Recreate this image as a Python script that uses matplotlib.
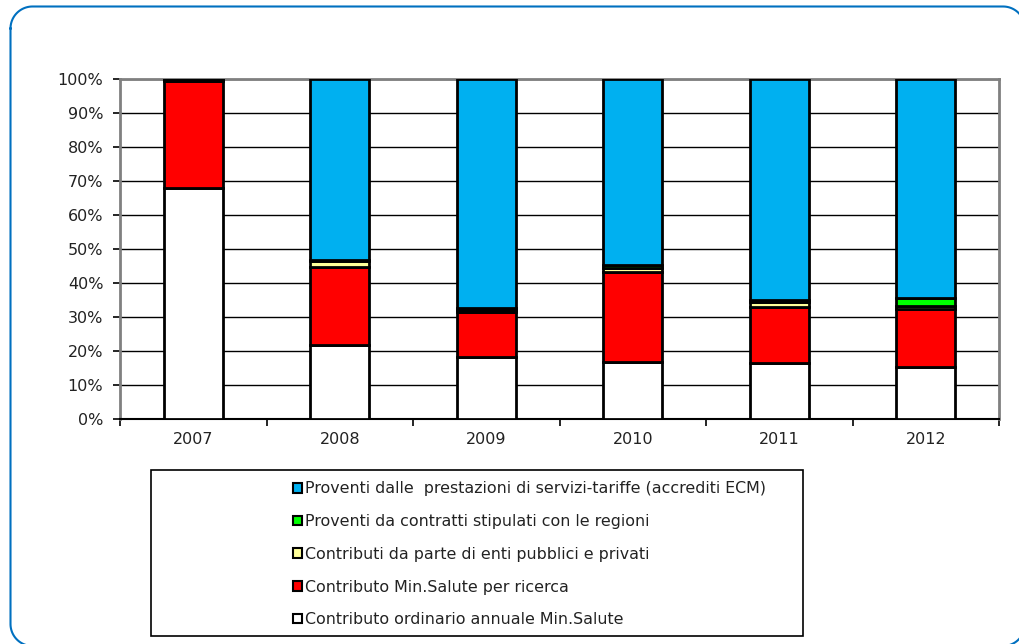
import matplotlib
matplotlib.use("Agg")
import matplotlib.pyplot as plt
import numpy as np
from matplotlib.patches import Rectangle
from matplotlib.ticker import PercentFormatter, FixedLocator

years = ["2007", "2008", "2009", "2010", "2011", "2012"]
ordinario = [68.0, 21.7, 18.3, 16.8, 16.6, 15.4]
ricerca = [31.5, 23.1, 13.1, 26.5, 16.2, 17.0]
enti = [0.3, 1.8, 0.6, 1.2, 1.7, 0.9]
regioni = [0.0, 0.2, 0.6, 0.8, 0.5, 2.2]
tariffe = [0.2, 53.2, 67.4, 54.7, 65.0, 64.5]

labels = [
    "Contributo ordinario annuale Min.Salute",
    "Contributo Min.Salute per ricerca",
    "Contributi da parte di enti pubblici e privati",
    "Proventi da contratti stipulati con le regioni",
    "Proventi dalle  prestazioni di servizi-tariffe (accrediti ECM)",
]
colors = ["#FFFFFF", "#FF0000", "#FFFF99", "#00FF00", "#00B0F0"]
series = [ordinario, ricerca, enti, regioni, tariffe]

plt.rcParams['font.family'] = ['DejaVu Sans']

W, H = 1020, 644
fig = plt.figure(figsize=(W / 100, H / 100), dpi=100)

# background axes in pixel coordinates for the rounded outer frame
bg = fig.add_axes([0, 0, 1, 1], zorder=0)
bg.set_xlim(0, W)
bg.set_ylim(H, 0)
bg.axis("off")
fx0, fy0, fx1, fy1, r = 10.5, 6.5, 1025, 646, 22
th = np.linspace(0, np.pi / 2, 30)
px, py = [], []
# top-left corner
px += list(fx0 + r - r * np.cos(th)); py += list(fy0 + r - r * np.sin(th))
# top-right corner
px += list(fx1 - r + r * np.sin(th)); py += list(fy0 + r - r * np.cos(th))
# bottom-right corner
px += list(fx1 - r + r * np.cos(th)); py += list(fy1 - r + r * np.sin(th))
# bottom-left corner
px += list(fx0 + r - r * np.sin(th)); py += list(fy1 - r + r * np.cos(th))
px.append(px[0]); py.append(py[0])
bg.plot(px, py, color="#0070C0", linewidth=1.5, clip_on=True)

ax = fig.add_axes([120 / W, 1 - 419 / H, (999 - 120) / W, (419 - 79) / H], zorder=1)
ax.set_facecolor("none")

x = np.arange(len(years))
bottom = np.zeros(len(years))
handles = []
for vals, col, lab in zip(series, colors, labels):
    vals = np.array(vals)
    b = ax.bar(x, vals, 0.4, bottom=bottom, color=col, edgecolor="black",
               linewidth=2.0, label=lab, zorder=3)
    handles.append(b)
    bottom += vals

ax.set_xlim(-0.5, len(years) - 0.5)
ax.set_ylim(0, 100)
ax.yaxis.set_major_locator(FixedLocator(np.arange(0, 101, 10)))
ax.yaxis.set_major_formatter(PercentFormatter(decimals=0))
ax.set_xticks(x)
ax.set_xticklabels(years)
ax.xaxis.set_minor_locator(FixedLocator(np.arange(-0.5, len(years), 1.0)))
ax.tick_params(axis="x", which="major", length=0, pad=9, labelsize=11.5, colors="#222222")
ax.tick_params(axis="x", which="minor", length=5, width=1.2, color="black", direction="out")
ax.tick_params(axis="y", which="major", length=5, width=1.2, color="black",
               pad=7, labelsize=11.5, labelcolor="#222222")

ax.set_axisbelow(True)
ax.yaxis.grid(True, color="black", linewidth=1.0, zorder=0)
for s in ["left", "right", "top"]:
    ax.spines[s].set_color("#808080")
    ax.spines[s].set_linewidth(2.0)
    ax.spines[s].set_zorder(2)
ax.spines["bottom"].set_color("black")
ax.spines["bottom"].set_linewidth(1.5)

# legend box
lx0, ly0, lx1, ly1 = 151, 470, 803, 636
box = Rectangle((lx0 / W, 1 - ly1 / H), (lx1 - lx0) / W, (ly1 - ly0) / H,
                transform=fig.transFigure, facecolor="none", edgecolor="black",
                linewidth=1.2, zorder=1)
fig.patches.append(box)

leg = fig.legend(handles[::-1], labels[::-1], loc="upper left",
                 bbox_to_anchor=(287 / W, 1 - 475 / H), frameon=False,
                 fontsize=11.4, handlelength=0.55, handleheight=0.55,
                 handletextpad=0.2, labelspacing=1.12, borderaxespad=0)
for h in leg.legend_handles:
    h.set_linewidth(1.5)
for t in leg.get_texts():
    t.set_color("#222222")

fig.savefig("out.png", dpi=100)
